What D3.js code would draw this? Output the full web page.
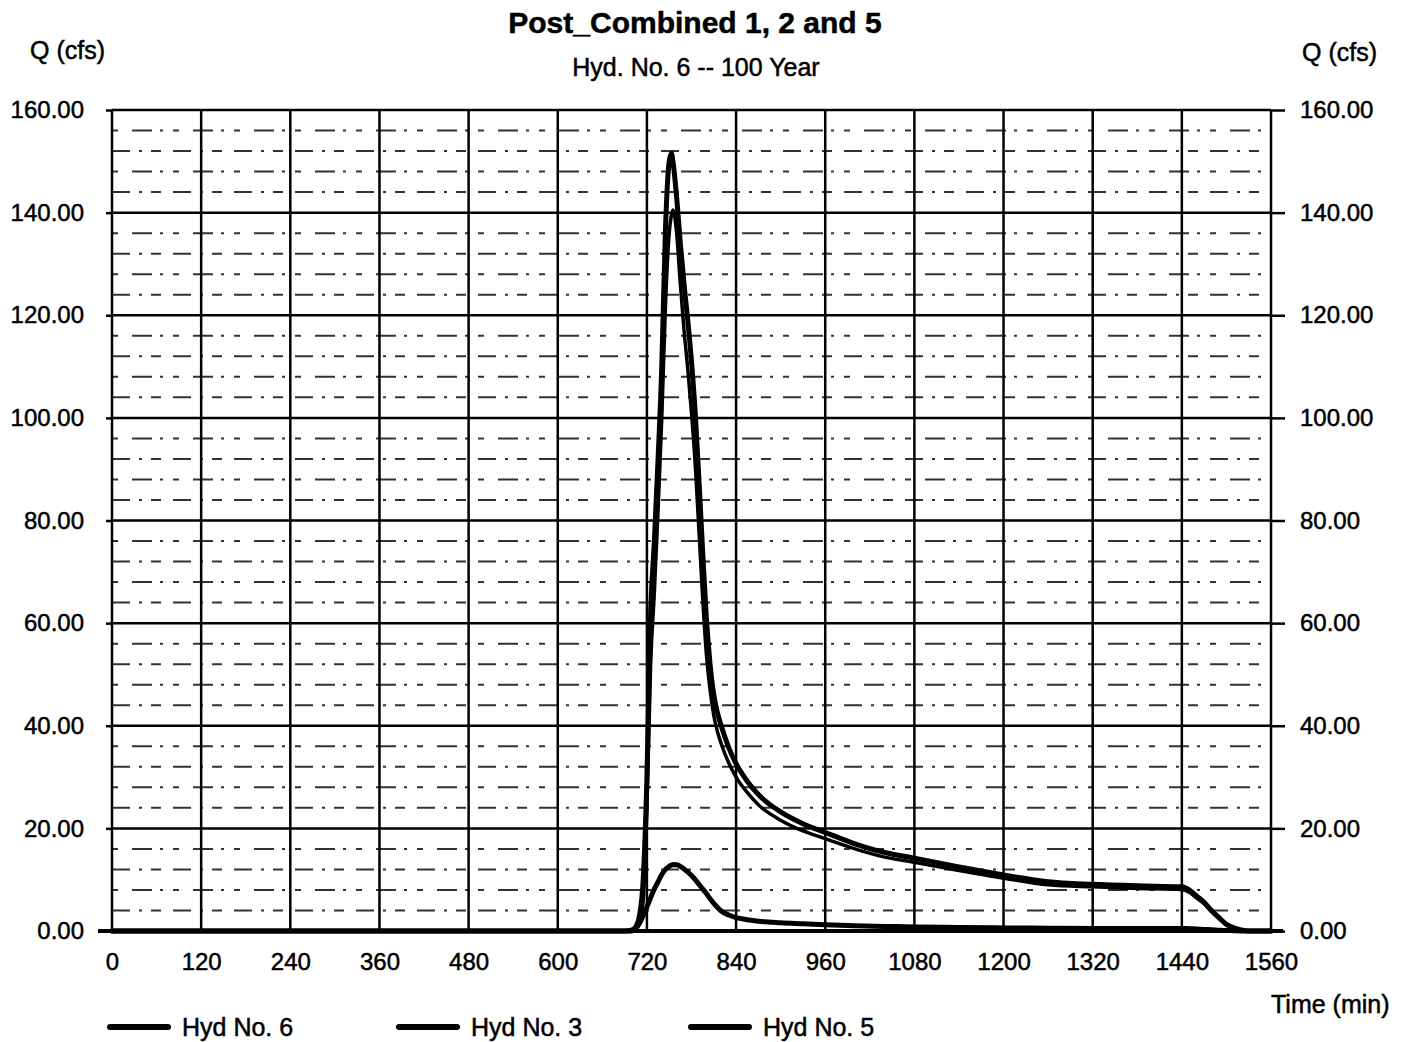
<!DOCTYPE html>
<html>
<head>
<meta charset="utf-8">
<script src="https://cdn.jsdelivr.net/npm/d3@7/dist/d3.min.js"></script>
<style>
body{margin:0;background:#fff;}
svg text{font-family:"Liberation Sans",Arial,sans-serif;fill:#000;stroke:#000;stroke-width:0.5px;}
</style>
</head>
<body>
<div id="graph"></div>
<script>
// hydrograph data (time in min, Q in cfs)
times=[0,690,700,705,710,715,720,725,730,735,740,745,750,753,755,760,765,770,775,780,785,790,795,800,805,810,815,820,830,840,855,870,900,930,960,1000,1040,1080,1140,1200,1260,1320,1380,1440,1450,1460,1470,1480,1490,1500,1510,1520,1530,1560];
hyd6=[0,0,0.2,0.8,3,10,30,62,76,92,110,137,150,151.5,150,143,134,126,119,111,101,88,74,61,52,46,42.5,40,35.8,32.6,29.2,26.6,23.2,20.9,19.2,17,15.3,14.2,12.5,10.9,9.6,9.1,8.8,8.6,8.0,6.8,5.6,4.0,2.6,1.3,0.6,0.2,0,0];
hyd3=[0,0,0.1,0.4,1.5,6,24,52,66,82,100,122,136,139.5,140.5,136,126,117,109.5,101,91,78,65,54,47,42,38.8,36.5,32.8,30,27,24.6,21.6,19.5,18,16,14.4,13.4,11.8,10.3,9.0,8.6,8.3,8.1,7.55,6.4,5.3,3.75,2.45,1.2,0.55,0.2,0,0];
hyd5=[0,0,0,0.5,1.5,3,4.7,6.5,8.2,9.6,11,12,12.6,12.85,12.95,12.9,12.6,12.1,11.5,10.8,10,9.1,8.2,7.3,6.3,5.4,4.6,3.9,3.1,2.6,2.2,1.9,1.6,1.4,1.2,1.0,0.9,0.8,0.7,0.6,0.55,0.5,0.5,0.5,0.45,0.4,0.3,0.25,0.15,0.1,0.05,0,0,0];

xTicks=[0,120,240,360,480,600,720,840,960,1080,1200,1320,1440,1560];
yTicks=[0,20,40,60,80,100,120,140,160];
seriesNames=["Hyd No. 6","Hyd No. 3","Hyd No. 5"];

//全域設定
width=1409;
height=1042;
plot={l:112,r:1271,t:110,b:931};
fs=24;

x=d3.scaleLinear().domain([0,1560]).range([plot.l,plot.r]);
y=d3.scaleLinear().domain([0,160]).range([plot.b,plot.t]);

$svg=d3.select('#graph').append('svg').attr('width',width).attr('height',height);

// minor dashed lines every 4 cfs
minor=d3.range(0,160,4).filter(function(v){return v%20!=0;});
$svg.append('g').selectAll('line').data(minor).enter().append('line')
	.attr('x1',plot.l).attr('x2',plot.r)
	.attr('y1',function(d){return y(d)}).attr('y2',function(d){return y(d)})
	.attr('stroke','#000').attr('stroke-width',2).attr('opacity',0.8)
	.attr('stroke-dasharray',function(d,i){return i%2==0?'18,9,3,9,10,12':'6,14,20,8,3,10'});

// major horizontal grid
$svg.append('g').selectAll('line').data(yTicks).enter().append('line')
	.attr('x1',plot.l).attr('x2',plot.r)
	.attr('y1',function(d){return y(d)}).attr('y2',function(d){return y(d)})
	.attr('stroke','#000').attr('stroke-width',2.5);

// vertical grid
$svg.append('g').selectAll('line').data(xTicks).enter().append('line')
	.attr('x1',function(d){return x(d)}).attr('x2',function(d){return x(d)})
	.attr('y1',plot.t).attr('y2',plot.b)
	.attr('stroke','#000').attr('stroke-width',2.5);

// bottom line is heavier
$svg.append('line').attr('x1',plot.l-14).attr('x2',plot.r+12)
	.attr('y1',plot.b).attr('y2',plot.b).attr('stroke','#000').attr('stroke-width',4);

// axes
yl=d3.axisLeft(y).tickValues(yTicks).tickFormat(d3.format('.2f')).tickSize(6).tickPadding(22);
yr=d3.axisRight(y).tickValues(yTicks).tickFormat(d3.format('.2f')).tickSize(14).tickPadding(15);
xb=d3.axisBottom(x).tickValues(xTicks).tickFormat(d3.format('d')).tickSize(0).tickPadding(22);

styleAxis=function(g){
	g.select('.domain').remove();
	g.selectAll('.tick line').attr('stroke','#000').attr('stroke-width',2.5);
	g.selectAll('.tick text').style('font-size',fs+'px');
};
$svg.append('g').attr('transform','translate('+plot.l+',0)').call(yl).call(styleAxis);
$svg.append('g').attr('transform','translate('+plot.r+',0)').call(yr).call(styleAxis);
$svg.append('g').attr('transform','translate(0,'+plot.b+')').call(xb).call(styleAxis);

// hydrographs
allSeries=[hyd6,hyd3,hyd5];
lineGen=d3.line()
	.x(function(d,i){return x(times[i])})
	.y(function(d){return y(d)})
	.curve(d3.curveMonotoneX);
$svg.append('g').selectAll('path').data(allSeries).enter().append('path')
	.attr('d',lineGen)
	.attr('fill','none').attr('stroke','#000')
	.attr('stroke-width',function(d,i){return i==1?3.5:5})
	.attr('stroke-linejoin','round').attr('stroke-linecap','round');

// texts
$svg.append('text').text('Post_Combined 1, 2 and 5')
	.attr('x',695).attr('y',33).attr('text-anchor','middle')
	.style('font-size','30px').style('font-weight','bold');
$svg.append('text').text('Hyd. No. 6 -- 100 Year')
	.attr('x',696).attr('y',76).attr('text-anchor','middle')
	.style('font-size','25px');
$svg.append('text').text('Q (cfs)').attr('x',30).attr('y',59).style('font-size','25px');
$svg.append('text').text('Q (cfs)').attr('x',1302).attr('y',61).style('font-size','25px');
$svg.append('text').text('Time (min)').attr('x',1271).attr('y',1013).style('font-size','25px');

// legend
legX=[108,397,689];
$leg=$svg.append('g').selectAll('g').data(seriesNames).enter().append('g')
	.attr('transform',function(d,i){return 'translate('+legX[i]+',1027)'});
$leg.append('line').attr('x1',2).attr('x2',60).attr('y1',0).attr('y2',0)
	.attr('stroke','#000').attr('stroke-width',6).attr('stroke-linecap','round');
$leg.append('text').text(function(d){return d}).attr('x',74).attr('y',9).style('font-size','25px');
</script>
</body>
</html>
